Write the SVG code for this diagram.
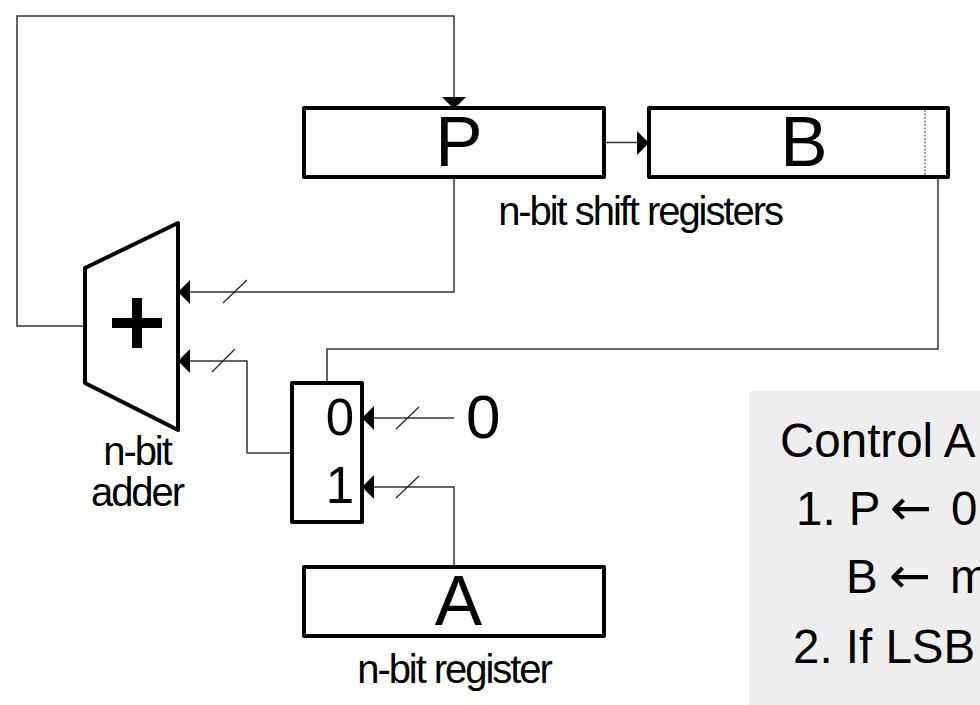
<svg xmlns="http://www.w3.org/2000/svg" width="980" height="705" viewBox="0 0 980 705">
<style>
text{font-family:"Liberation Sans",Arial,sans-serif;fill:#000}
.box{fill:#fff;stroke:#000;stroke-width:4;stroke-linejoin:round}
.wire{fill:none;stroke:#333;stroke-width:1.5}
.slash{fill:none;stroke:#222;stroke-width:1.2}
.big{font-size:71px;text-anchor:middle}
.lab{font-size:40px;letter-spacing:-2.05px;text-anchor:middle}
.dig{font-size:51px;text-anchor:end}
.ctl{font-size:47.5px}
.arr{font-family:"DejaVu Sans",sans-serif;font-size:50px}
.head{fill:#000;stroke:none}
</style>
<rect x="749" y="391" width="231" height="314" fill="#eeeeee"/>
<g id="connectors">
<path class="wire" d="M85 326H17V16H454V100"/>
<path class="wire" d="M604 142.500H640"/>
<path class="wire" d="M454 177V292H188"/>
<path class="wire" d="M291 453H247V361H188"/>
<path class="wire" d="M327 383V349H938V177"/>
<path class="wire" d="M454 418H372"/>
<path class="wire" d="M454 567V487H372"/>
<path class="slash" d="M223 303L247 280M212 372L235 349M396 429L419 407M396 498L419 476"/>
<path class="head" d="M442 97H466L454 109Z"/>
<path class="head" d="M637 131L649 143L637 155Z"/>
<path class="head" d="M178 292L190 280V304Z"/>
<path class="head" d="M178 361L190 349V373Z"/>
<path class="head" d="M362 418L374 406V430Z"/>
<path class="head" d="M362 487L374 475V499Z"/>
</g>
<g id="node-p"><rect class="box" x="304" y="108" width="300" height="69"/><text class="big" x="459" y="166">P</text></g>
<g id="node-b"><rect class="box" x="649" y="108" width="299" height="69"/><path d="M925 110V175" fill="none" stroke="#333" stroke-width="1" stroke-dasharray="2 1.500"/><text class="big" x="804" y="166">B</text></g>
<text class="lab" x="640" y="225">n-bit shift registers</text>
<g id="node-adder"><path class="box" d="M85 268L178 223V430L85 383Z"/><path d="M112 318H132V298H142V318H162V328H142V348H132V328H112Z" fill="#000"/>
<text class="lab" x="137" y="465">n-bit</text><text class="lab" x="137" y="506">adder</text></g>
<g id="node-mux"><rect class="box" x="292" y="383" width="70" height="139"/><text class="dig" x="354" y="435">0</text><text class="dig" x="354" y="503">1</text></g>
<text id="zero" x="466" y="438" font-size="62">0</text>
<g id="node-a"><rect class="box" x="304" y="567" width="300" height="69"/><text class="big" x="458.500" y="625">A</text></g>
<text class="lab" x="454" y="683">n-bit register</text>
<g id="control"><text class="ctl" x="780" y="457">Control A</text>
<text class="ctl" x="796" y="525">1. P <tspan class="arr" x="890">←</tspan><tspan x="951">0</tspan></text>
<text class="ctl" x="846" y="593">B <tspan class="arr" x="889">←</tspan><tspan x="950">m</tspan></text>
<text class="ctl" x="793" y="663">2. If LSB</text></g>
</svg>
